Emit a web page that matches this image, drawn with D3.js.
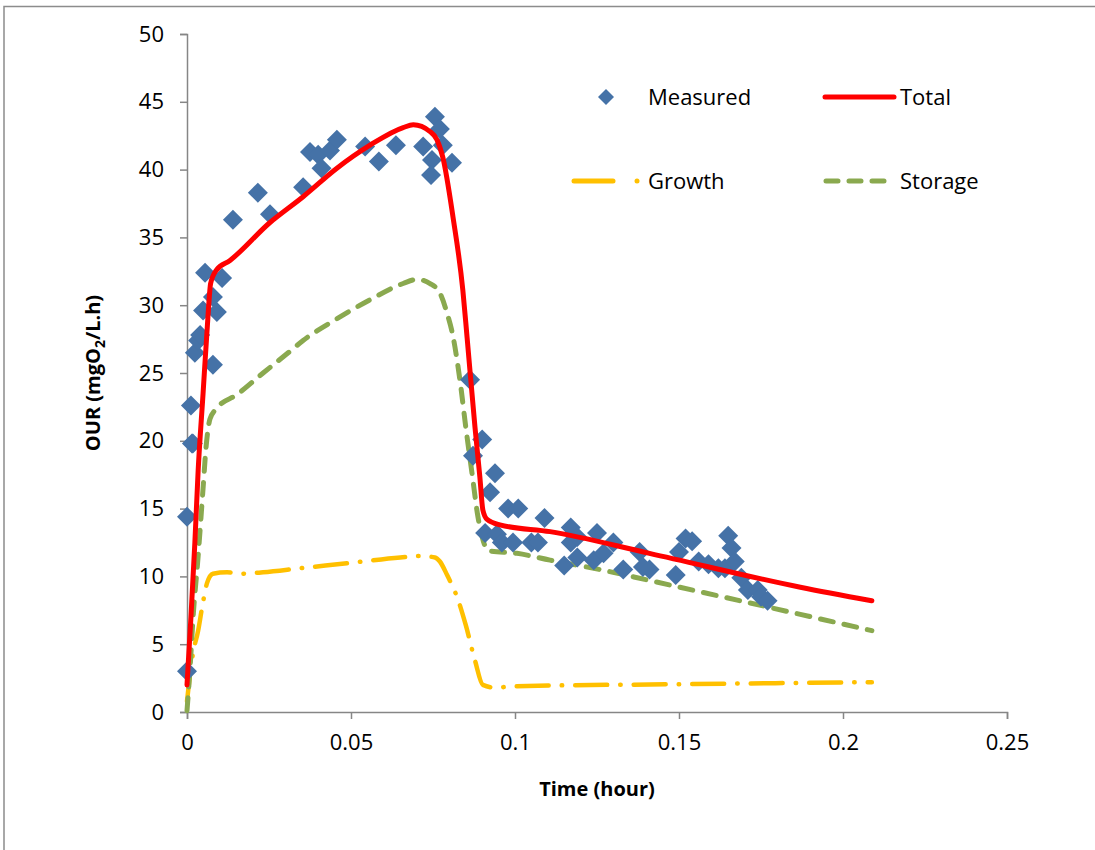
<!DOCTYPE html>
<html>
<head>
<meta charset="utf-8">
<script src="https://cdn.jsdelivr.net/npm/d3@7"></script>
<style>
  html, body { margin: 0; padding: 0; background: #fff; overflow: hidden; }
  svg { display: block; font-family: "Open Sans", "Noto Sans", sans-serif; }
</style>
</head>
<body>
<svg id="chart" width="1095" height="850"></svg>
<script>
// ---- Data ----
const measuredT = [0, 0, 0.0015, 0.0012, 0.0018, 0.0024, 0.0034, 0.0040, 0.0049, 0.0055, 0.0079, 0.0091, 0.0107, 0.0079,
  0.014, 0.0216, 0.0253, 0.0354, 0.0375, 0.040, 0.041, 0.0436, 0.0457, 0.0543, 0.0585, 0.0637, 0.072, 0.0756, 0.0771, 0.078,
  0.0747, 0.0744, 0.0808,
  0.0863, 0.090, 0.0872, 0.0939, 0.0924, 0.0979, 0.101, 0.109, 0.0909, 0.0945, 0.096, 0.0994, 0.105, 0.107,
  0.117, 0.117, 0.119, 0.115, 0.119, 0.125, 0.130, 0.124, 0.127, 0.133, 0.138, 0.139, 0.141,
  0.149, 0.150, 0.152, 0.154, 0.156, 0.159, 0.162, 0.164, 0.165, 0.166, 0.167, 0.169, 0.171, 0.174, 0.175, 0.177];
const measuredY = [3.0, 14.4, 19.8, 22.6, 19.8, 26.5, 27.4, 27.8, 29.6, 32.4, 30.6, 29.5, 32.0, 25.6,
  36.3, 38.3, 36.7, 38.7, 41.3, 41.1, 40.1, 41.4, 42.2, 41.7, 40.6, 41.8, 41.7, 43.9, 43.0, 41.8,
  40.7, 39.6, 40.5,
  24.5, 20.1, 18.9, 17.6, 16.2, 15.0, 15.0, 14.3, 13.2, 13.1, 12.5, 12.5, 12.5, 12.5,
  13.6, 12.5, 12.9, 10.8, 11.4, 13.2, 12.5, 11.2, 11.7, 10.5, 11.8, 10.7, 10.5,
  10.1, 11.8, 12.8, 12.6, 11.1, 10.9, 10.6, 10.6, 13.0, 12.1, 11.1, 9.9, 9.0, 9.0, 8.5, 8.2];

const totalT = [0, 0.0012, 0.0024, 0.0034, 0.0049, 0.0064, 0.0072, 0.009, 0.0131, 0.0253, 0.0354, 0.0457, 0.0558,
  0.0659, 0.069, 0.0741, 0.0762, 0.078, 0.0811, 0.0841, 0.0854, 0.0878, 0.0893, 0.0902, 0.0915, 0.0954, 0.1107,
  0.141, 0.187, 0.2088];
const totalY = [2.0, 7.0, 12.5, 17.8, 23.5, 29.2, 31.6, 32.6, 33.3, 36.1, 38.0, 40.1, 41.8,
  43.1, 43.3, 42.8, 42.2, 40.9, 36.5, 31.1, 27.6, 21.0, 17.3, 14.9, 14.2, 13.8, 13.3,
  11.7, 9.2, 8.2];

const storageT = [0, 0.0009, 0.0018, 0.0034, 0.0049, 0.0058, 0.007, 0.0091, 0.0152, 0.0232, 0.0314, 0.0354, 0.0457,
  0.0558, 0.0659, 0.0701, 0.0741, 0.0771, 0.0793, 0.0811, 0.0832, 0.0851, 0.0869, 0.0887, 0.09, 0.0918, 0.1006,
  0.1107, 0.126, 0.141, 0.187, 0.2088];
const storageY = [0.1, 3.1, 6.8, 11.5, 16.5, 19.5, 21.6, 22.4, 23.4, 25.0, 26.6, 27.4, 29.0,
  30.4, 31.6, 31.9, 31.6, 30.9, 29.4, 27.7, 24.5, 20.8, 17.6, 14.4, 12.9, 11.9, 11.7,
  11.2, 10.5, 9.7, 7.2, 6.0];

const growthT = [0, 0.0018, 0.0034, 0.0046, 0.0061, 0.0079, 0.0122, 0.0162, 0.0232, 0.0345, 0.05, 0.065, 0.071,
  0.0756, 0.0771, 0.0793, 0.0826, 0.085, 0.0878, 0.0902, 0.0939, 0.1, 0.15, 0.2088];
const growthY = [0.8, 4.3, 6.0, 7.7, 9.5, 10.2, 10.3, 10.2, 10.3, 10.6, 11.0, 11.4, 11.5,
  11.4, 11.1, 10.1, 8.3, 6.4, 3.8, 2.0, 1.8, 1.9, 2.05, 2.2];

const xTicks = [0, 0.05, 0.1, 0.15, 0.2, 0.25];
const xTickLabels = ["0", "0.05", "0.1", "0.15", "0.2", "0.25"];
const yTicks = [0, 5, 10, 15, 20, 25, 30, 35, 40, 45, 50];

const legendNames = ["Measured", "Total", "Growth", "Storage"];

// ---- Layout ----
const svg = d3.select("#chart");
const pL = 187, pR = 1007, pT = 34, pB = 712;
const x = d3.scaleLinear().domain([0, 0.25]).range([pL, pR]);
const y = d3.scaleLinear().domain([0, 50]).range([pB, pT]);

const colBlue = "#4572a7", colRed = "#ff0000", colYellow = "#ffc000", colGreen = "#8aa94f", axisCol = "#868686";

// outer chart border (only left and top edges are inside the picture)
svg.append("path").attr("d", "M4,850V6.5H1095")
  .attr("fill", "none").attr("stroke", "#8c8c8c").attr("stroke-width", 1.5);

// axes
const yAxis = d3.axisLeft(y).tickValues(yTicks).tickSize(7).tickPadding(16).tickFormat(d3.format("d"));
const gy = svg.append("g").attr("transform", `translate(${pL},0)`).call(yAxis);
const xAxis = d3.axisBottom(x).tickValues(xTicks).tickSize(7).tickPadding(15)
  .tickFormat((d, i) => xTickLabels[i]);
const gx = svg.append("g").attr("transform", `translate(0,${pB})`).call(xAxis);
[gx, gy].forEach(g => {
  g.select(".domain").attr("stroke", axisCol).attr("stroke-width", 1.5);
  g.selectAll(".tick line").attr("stroke", axisCol).attr("stroke-width", 1.5);
  g.selectAll(".tick text").attr("fill", "#000").attr("font-size", 22)
    .attr("font-family", "'Open Sans', sans-serif");
});
gx.selectAll(".tick text").attr("dy", "0.71em");

// axis titles
svg.append("text").attr("x", (pL + pR) / 2).attr("y", 796).attr("text-anchor", "middle")
  .attr("font-size", 20).attr("font-weight", "bold").text("Time (hour)");
const yt = svg.append("text").attr("transform", `translate(100,${(pT + pB) / 2}) rotate(-90)`)
  .attr("text-anchor", "middle").attr("font-size", 20).attr("font-weight", "bold");
yt.append("tspan").text("OUR (mgO");
yt.append("tspan").attr("font-size", 14).attr("dy", 5).text("2");
yt.append("tspan").attr("dy", -5).text("/L.h)");

// lines
const line = d3.line().x(d => x(d[0])).y(d => y(d[1])).curve(d3.curveMonotoneX);
const zip = (a, b) => a.map((v, i) => [v, b[i]]);

const plot = svg.append("g");
plot.append("path").datum(zip(growthT, growthY)).attr("d", line)
  .attr("fill", "none").attr("stroke", colYellow).attr("stroke-width", 4.5)
  .attr("stroke-linecap", "round").attr("stroke-dasharray", "32,13,0.5,13");
plot.append("path").datum(zip(storageT, storageY)).attr("d", line)
  .attr("fill", "none").attr("stroke", colGreen).attr("stroke-width", 5)
  .attr("stroke-linecap", "round").attr("stroke-dasharray", "13,11");

// measured diamonds
const diamond = "M0,-10L10,0L0,10L-10,0Z";
plot.selectAll(".m").data(zip(measuredT, measuredY)).enter().append("path")
  .attr("class", "m").attr("d", diamond)
  .attr("transform", d => `translate(${x(d[0])},${y(d[1])})`)
  .attr("fill", colBlue);

plot.append("path").datum(zip(totalT, totalY)).attr("d", line)
  .attr("fill", "none").attr("stroke", colRed).attr("stroke-width", 5)
  .attr("stroke-linejoin", "round").attr("stroke-linecap", "round");

// legend
const lg = svg.append("g").attr("font-size", 22);
lg.append("path").attr("d", "M0,-8L8,0L0,8L-8,0Z").attr("fill", colBlue).attr("transform", "translate(606,97)");
lg.append("text").attr("x", 648).attr("y", 97).attr("dy", "0.35em").text(legendNames[0]);
lg.append("line").attr("x1", 825).attr("x2", 894).attr("y1", 97).attr("y2", 97)
  .attr("stroke", colRed).attr("stroke-width", 5).attr("stroke-linecap", "round");
lg.append("text").attr("x", 900).attr("y", 97).attr("dy", "0.35em").text(legendNames[1]);
lg.append("line").attr("x1", 574).attr("x2", 613).attr("y1", 181).attr("y2", 181)
  .attr("stroke", colYellow).attr("stroke-width", 5).attr("stroke-linecap", "round");
lg.append("circle").attr("cx", 637).attr("cy", 181).attr("r", 2.5).attr("fill", colYellow);
lg.append("text").attr("x", 648).attr("y", 181).attr("dy", "0.35em").text(legendNames[2]);
lg.append("line").attr("x1", 826).attr("x2", 886).attr("y1", 181).attr("y2", 181)
  .attr("stroke", colGreen).attr("stroke-width", 5).attr("stroke-linecap", "round")
  .attr("stroke-dasharray", "12,11");
lg.append("text").attr("x", 900).attr("y", 181).attr("dy", "0.35em").text(legendNames[3]);
</script>
</body>
</html>
